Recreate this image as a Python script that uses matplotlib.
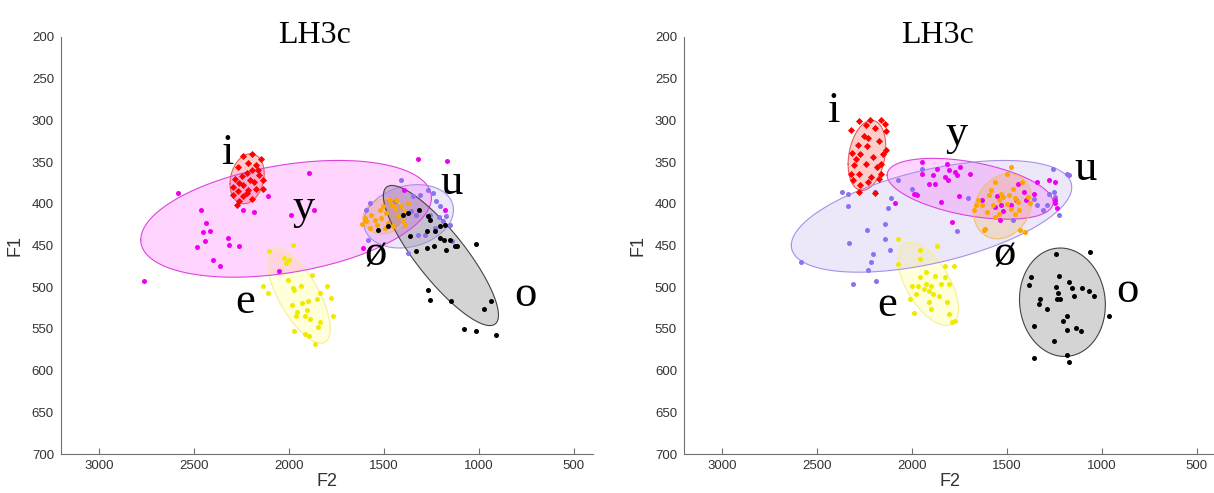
import numpy as np
import matplotlib
matplotlib.use('Agg')
import matplotlib.pyplot as plt

vowels = ['i', 'e', 'y', 'ø', 'u', 'o']
colors = ['#ff0000', '#eeea00', '#ee00ee', '#ffa500', '#8f70ee', '#000000']
ell_face = ['#ff0000', '#ffff00', '#ff00ff', '#ffa500', '#9370db', '#000000']
ell_edge = ['#e06060', '#f4ee9a', '#dd44dd', '#f0c070', '#a890e8', '#444444']
ell_alpha = [0.2, 0.15, 0.17, 0.2, 0.16, 0.17]

# ---- left panel data (F2, F1) ----
L_i_f2 = [2192, 2241, 2149, 2215, 2174, 2267, 2197, 2223, 2157, 2249, 2285, 2206, 2139, 2262,
          2185, 2241, 2294, 2215, 2171, 2267, 2136, 2244, 2192, 2262, 2273, 2223, 2164, 2297]
L_i_f1 = [340, 343, 346, 351, 354, 356, 359, 363, 365, 367, 370, 371, 371, 375,
          374, 378, 380, 383, 382, 385, 382, 391, 394, 397, 402, 387, 359, 389]
L_e_f2 = [2106, 1981, 2027, 1999, 2013, 1876, 2004, 2136, 2109, 1981, 1934, 1974, 1838, 1802, 1852, 1899,
          1929, 1986, 1776, 1957, 1904, 1916, 1964, 1890, 1838, 1847, 1768, 1974, 1916, 1894, 1864]
L_e_f1 = [457, 449, 465, 467, 471, 485, 491, 498, 507, 501, 499, 503, 507, 499, 514, 517,
          519, 521, 513, 530, 527, 535, 534, 538, 542, 548, 535, 552, 556, 558, 568]
L_y_f2 = [2583, 2461, 2435, 2451, 2418, 2443, 2484, 2322, 2262, 2315, 2398, 2363, 2761, 1892, 1867,
          1991, 2112, 2243, 2182, 1322, 1170, 1180, 1612, 2050, 1395]
L_y_f1 = [387, 407, 423, 434, 433, 444, 452, 441, 451, 449, 467, 475, 493, 363, 407,
          413, 391, 408, 410, 346, 349, 407, 453, 481, 383]
L_oe_f2 = [1618, 1592, 1566, 1575, 1539, 1522, 1513, 1487, 1478, 1460, 1443, 1426, 1408, 1390, 1373,
           1452, 1496, 1548, 1601, 1399, 1469, 1434, 1390, 1504]
L_oe_f1 = [424, 421, 413, 429, 425, 407, 417, 411, 423, 401, 405, 415, 403, 409, 399,
           427, 429, 419, 417, 421, 395, 395, 425, 403]
L_u_f2 = [1408, 1347, 1312, 1268, 1242, 1224, 1207, 1583, 1356, 1329, 1259, 1171, 1189, 1154, 1320,
          1285, 1373, 1233, 1443, 1592, 1575, 1143, 1211]
L_u_f1 = [372, 391, 389, 384, 387, 397, 403, 443, 409, 413, 413, 415, 421, 425, 437,
          437, 459, 429, 397, 407, 399, 444, 416]
L_o_f2 = [1315, 1259, 1273, 1233, 1206, 1185, 1154, 1127, 1115, 1017, 1361, 1329, 1273, 1236, 1171,
          1268, 1206, 1180, 1268, 1255, 1145, 973, 935, 1080, 1013, 912, 1373, 1530, 1480, 1400]
L_o_f1 = [408, 419, 433, 433, 441, 443, 443, 450, 451, 448, 439, 457, 453, 451, 455,
          415, 427, 425, 503, 515, 516, 526, 517, 550, 553, 557, 411, 432, 427, 414]

# ellipses: centre, half extents along F2 and F1, and tilt (cos of phase)
L_ell_f2c = [2220, 1948, 2015, 1500, 1370, 1200]
L_ell_f1c = [370, 510, 418, 415, 415, 462]
L_ell_f2r = [90, 166, 765, 110, 236, 303]
L_ell_f1r = [30, 57, 70, 21, 38, 84]
L_ell_tilt = [0.2, -0.7, 0.36, 0.1, 0.2, -0.85]

L_lab_f2 = [2324, 2229, 1925, 1544, 1143, 753]
L_lab_f1 = [352, 531, 418, 474, 388, 523]

# ---- right panel data ----
R_i_f2 = [2280, 2223, 2162, 2142, 2319, 2243, 2193, 2136, 2254, 2229, 2284, 2237, 2172, 2315, 2274, 2203, 2152,
          2294, 2243, 2186, 2162, 2319, 2278, 2213, 2162, 2310, 2274, 2233, 2172, 2278, 2197, 2304, 2138]
R_i_f1 = [301, 300, 300, 304, 311, 305, 309, 313, 319, 321, 329, 331, 325, 339, 340, 344, 340,
          346, 352, 356, 352, 364, 364, 368, 364, 372, 378, 374, 370, 386, 387, 354, 335]
R_e_f2 = [2075, 1867, 1959, 2075, 1959, 1826, 1780, 1924, 1959, 1877, 1826, 1999, 1969, 1928, 1898,
          1847, 1806, 1938, 1908, 1979, 1887, 1857, 2009, 1908, 1816, 1898, 1989, 1806, 1776, 1790]
R_e_f1 = [442, 450, 455, 472, 466, 474, 474, 482, 488, 486, 488, 498, 498, 496, 499,
          496, 496, 502, 504, 508, 508, 511, 514, 518, 518, 526, 531, 532, 540, 542]
R_y_f2 = [1948, 1816, 1867, 1806, 1745, 1776, 1812, 1887, 1948, 1881, 1908, 1826, 1765, 1694, 1989, 1973,
          1847, 1755, 1633, 1552, 1531, 1521, 1409, 1399, 1359, 1342, 1277, 1247, 1247, 1237, 1790,
          1481, 1562, 1440, 1247, 2091, 1538]
R_y_f1 = [350, 352, 358, 360, 356, 362, 372, 366, 364, 376, 376, 368, 366, 364, 388, 390,
          398, 391, 395, 391, 401, 409, 386, 396, 388, 374, 371, 374, 399, 405, 422,
          401, 404, 376, 395, 399, 420]
R_oe_f2 = [1481, 1501, 1562, 1420, 1470, 1582, 1531, 1593, 1491, 1460, 1389, 1542, 1440, 1379, 1664,
           1633, 1572, 1501, 1674, 1481, 1436, 1603, 1542, 1460, 1562, 1613, 1623, 1430, 1403, 1654, 1521]
R_oe_f1 = [356, 364, 374, 374, 382, 384, 388, 390, 390, 393, 392, 395, 398, 399, 401,
           402, 401, 400, 407, 406, 407, 410, 412, 412, 416, 430, 431, 431, 434, 396, 392]
R_u_f2 = [2369, 2339, 2339, 2331, 2310, 2583, 2237, 2233, 2213, 2207, 2188, 2142, 2142, 2115, 2125, 2111,
          2075, 2193, 1999, 1948, 1979, 1765, 1704, 1450, 1470, 1344, 1308, 1277, 1257, 1253, 1247,
          1226, 1186, 1176, 1287, 1359]
R_u_f1 = [386, 388, 403, 447, 496, 470, 432, 479, 470, 460, 492, 424, 442, 455, 405, 393,
          372, 386, 382, 358, 388, 433, 393, 396, 419, 402, 407, 388, 358, 386, 392,
          414, 364, 366, 402, 394]
R_o_f2 = [1241, 1064, 1373, 1383, 1226, 1176, 1241, 1232, 1155, 1070, 1043, 1328, 1332, 1291, 1237,
          1220, 1145, 1104, 962, 1359, 1186, 1206, 1186, 1135, 1108, 1253, 1186, 1359, 1176]
R_o_f1 = [460, 458, 488, 497, 486, 494, 500, 507, 501, 505, 511, 514, 520, 526, 514,
          514, 510, 501, 534, 547, 535, 540, 551, 549, 553, 565, 581, 585, 590]

R_ell_f2c = [2237, 1915, 1694, 1521, 1897, 1208]
R_ell_f1c = [342, 496, 382, 403, 415, 518]
R_ell_f2r = [99, 160, 437, 153, 738, 226]
R_ell_f1r = [42, 50, 36.5, 39, 67, 65]
R_ell_tilt = [0.25, -0.6, -0.45, 0.2, 0.52, -0.05]

R_lab_f2 = [2416, 2133, 1765, 1511, 1088, 866]
R_lab_f1 = [302, 535, 329, 474, 372, 518]

panels = [
    dict(pts=[(L_i_f2, L_i_f1), (L_e_f2, L_e_f1), (L_y_f2, L_y_f1), (L_oe_f2, L_oe_f1), (L_u_f2, L_u_f1), (L_o_f2, L_o_f1)],
         ell=(L_ell_f2c, L_ell_f1c, L_ell_f2r, L_ell_f1r, L_ell_tilt), lab=(L_lab_f2, L_lab_f1)),
    dict(pts=[(R_i_f2, R_i_f1), (R_e_f2, R_e_f1), (R_y_f2, R_y_f1), (R_oe_f2, R_oe_f1), (R_u_f2, R_u_f1), (R_o_f2, R_o_f1)],
         ell=(R_ell_f2c, R_ell_f1c, R_ell_f2r, R_ell_f1r, R_ell_tilt), lab=(R_lab_f2, R_lab_f1)),
]

fig = plt.figure(figsize=(12.14, 4.93), dpi=100)
axes_pos = [[0.0502, 0.079, 0.4382, 0.846], [0.5634, 0.079, 0.4382, 0.846]]
axcol = '#707070'
t = np.linspace(0, 2 * np.pi, 300)

for pos, p in zip(axes_pos, panels):
    ax = fig.add_axes(pos)
    cx, cy, rx, ry, tilt = p['ell']
    # ellipses drawn behind the points
    for k in range(len(vowels)):
        phi = np.arccos(tilt[k])
        ex = cx[k] + rx[k] * np.cos(t)
        ey = cy[k] + ry[k] * np.cos(t + phi)
        ax.fill(ex, ey, facecolor=ell_face[k], alpha=ell_alpha[k], zorder=1, lw=0)
        ax.plot(ex, ey, color=ell_edge[k], lw=0.8, zorder=1.5)
    # u and y first so the smaller clusters sit on top
    for k in [4, 2, 1, 0, 3, 5]:
        f2, f1 = p['pts'][k]
        mk = 'D' if vowels[k] == 'i' else 'o'
        ax.scatter(f2, f1, s=13 if mk == 'o' else 13, marker=mk, color=colors[k], lw=0, zorder=2)
    lx, ly = p['lab']
    for k, v in enumerate(vowels):
        ax.text(lx[k], ly[k], v, fontsize=32, family='Liberation Serif', ha='center', va='baseline', zorder=3)

    ax.set_xlim(3200, 400)
    ax.set_ylim(700, 200)
    ax.set_xticks([3000, 2500, 2000, 1500, 1000, 500])
    ax.set_yticks(np.arange(200, 701, 50))
    ax.tick_params(direction='in', length=4, width=0.8, color=axcol, labelcolor='#333333', labelsize=9.5)
    ax.tick_params(axis='y', length=0, pad=5)
    ax.tick_params(axis='x', pad=4)
    for lab in ax.get_xticklabels() + ax.get_yticklabels():
        lab.set_family('Liberation Sans')
    ax.spines['top'].set_visible(False)
    ax.spines['right'].set_visible(False)
    ax.spines['left'].set_color(axcol)
    ax.spines['bottom'].set_color(axcol)
    ax.set_xlabel('F2', fontsize=13, family='Liberation Sans', color='#333333', labelpad=1)
    ax.set_ylabel('F1', fontsize=13, family='Liberation Sans', color='#333333', labelpad=6)
    ax.set_title('LH3c', fontsize=23, family='Liberation Serif', x=0.477, y=0.985, pad=0)

fig.savefig('out.png', dpi=100)
